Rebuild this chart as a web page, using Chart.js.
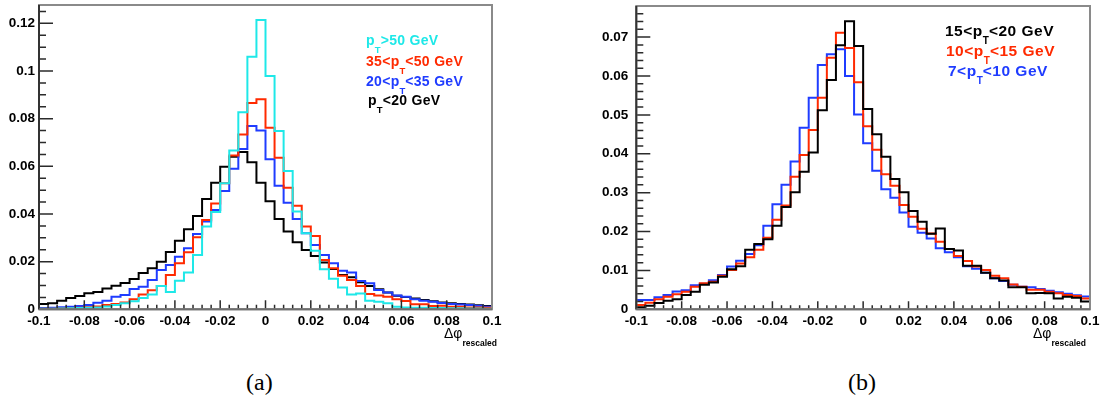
<!DOCTYPE html>
<html lang="en">
<head>
<meta charset="UTF-8" />
<title>Delta phi rescaled</title>
<script src="https://cdn.jsdelivr.net/npm/chart.js"></script>
<style>
  * { margin: 0; padding: 0; box-sizing: border-box; }
  body {
    width: 1103px;
    height: 401px;
    background: #fff;
    position: relative;
    overflow: hidden;
    font-family: 'Liberation Sans', Arial, sans-serif;
  }
  canvas { position: absolute; top: 0; }
  .leg {
    position: absolute;
    font-weight: bold;
    font-size: 14px;
    line-height: 16px;
    letter-spacing: 0.3px;
    white-space: nowrap;
  }
  .leg.big { font-size: 15.5px; letter-spacing: 0.5px; }
  .sub { font-size: 9.5px; position: relative; top: 8px; letter-spacing: 0; }
  .big .sub { font-size: 10px; top: 8.5px; }
  .xtitle { position: absolute; font-size: 14px; line-height: 16px; white-space: nowrap; }
  .xtitle .resc { font-size: 8.5px; font-weight: bold; position: relative; top: 8px; }
  .caption { position: absolute; font-family: 'Liberation Serif', serif; font-size: 24px; line-height: 28px; }
</style>
</head>
<body>
  <canvas id="chartA" width="510" height="330" style="left:0"></canvas>
  <canvas id="chartB" width="543" height="330" style="left:560px"></canvas>

  <div class="leg" style="left:366px; top:32px; color:#1ee8e8">p<span class="sub">T</span>&gt;50 GeV</div>
  <div class="leg" style="left:366px; top:53px; color:#ff2a00">35&lt;p<span class="sub">T</span>&lt;50 GeV</div>
  <div class="leg" style="left:366px; top:73px; color:#1f3cff">20&lt;p<span class="sub">T</span>&lt;35 GeV</div>
  <div class="leg" style="left:368px; top:92px; color:#000">p<span class="sub">T</span>&lt;20 GeV</div>

  <div class="leg big" style="left:945px; top:22.5px; color:#000">15&lt;p<span class="sub">T</span>&lt;20 GeV</div>
  <div class="leg big" style="left:946px; top:42.5px; color:#ff2a00">10&lt;p<span class="sub">T</span>&lt;15 GeV</div>
  <div class="leg big" style="left:948px; top:62.5px; color:#1f3cff">7&lt;p<span class="sub">T</span>&lt;10 GeV</div>

  <div class="xtitle" style="left:444px; top:325px">&Delta;&phi;<span class="resc">rescaled</span></div>
  <div class="xtitle" style="left:1033px; top:325px">&Delta;&phi;<span class="resc">rescaled</span></div>

  <div class="caption" style="left:246px; top:368px">(a)</div>
  <div class="caption" style="left:848px; top:368px">(b)</div>

  <script>
    // histogram binning: 50 bins of 0.004 from -0.1 to 0.1
    const binLow = -0.1;
    const binWidth = 0.004;
    const xTicks = [-0.1, -0.08, -0.06, -0.04, -0.02, 0, 0.02, 0.04, 0.06, 0.08, 0.1];

    // panel (a)
    const ptOver50 = [0.0002, 0.0002, 0.0003, 0.0004, 0.0005, 0.0006, 0.0008, 0.0012, 0.0018, 0.0025,
      0.0034, 0.0047, 0.0062, 0.0098, 0.0073, 0.0120, 0.0154, 0.0228, 0.0347, 0.0408,
      0.0529, 0.0666, 0.0827, 0.1060, 0.1214, 0.0979, 0.0748, 0.0580, 0.0410, 0.0319,
      0.0246, 0.0168, 0.0128, 0.0092, 0.0062, 0.0066, 0.0036, 0.0032, 0.0025, 0.0011,
      0.0008, 0.0007, 0.0006, 0.0005, 0.0005, 0.0004, 0.0004, 0.0003, 0.0003, 0.0002];
    const pt35to50 = [0.0002, 0.0002, 0.0003, 0.0004, 0.0006, 0.0009, 0.0012, 0.0018, 0.0022, 0.0029,
      0.0042, 0.0062, 0.0080, 0.0098, 0.0144, 0.0193, 0.0239, 0.0302, 0.0375, 0.0444,
      0.0529, 0.0645, 0.0734, 0.0866, 0.0882, 0.0762, 0.0636, 0.0510, 0.0435, 0.0347,
      0.0308, 0.0207, 0.0172, 0.0141, 0.0123, 0.0098, 0.0064, 0.0058, 0.0053, 0.0042,
      0.0035, 0.0021, 0.0021, 0.0014, 0.0015, 0.0011, 0.0011, 0.0008, 0.0008, 0.0006];
    const pt20to35 = [0.0005, 0.0007, 0.0009, 0.0011, 0.0014, 0.0018, 0.0028, 0.0036, 0.0053, 0.0060,
      0.0085, 0.0095, 0.0123, 0.0165, 0.0186, 0.0221, 0.0256, 0.0316, 0.0368, 0.0417,
      0.0496, 0.0590, 0.0673, 0.0769, 0.0750, 0.0630, 0.0519, 0.0447, 0.0379, 0.0319,
      0.0270, 0.0228, 0.0193, 0.0162, 0.0154, 0.0119, 0.0109, 0.0081, 0.0070, 0.0058,
      0.0053, 0.0042, 0.0036, 0.0032, 0.0026, 0.0022, 0.0020, 0.0018, 0.0015, 0.0011];
    const ptBelow20 = [0.0022, 0.0025, 0.0036, 0.0047, 0.0056, 0.0067, 0.0073, 0.0087, 0.0099, 0.0110,
      0.0127, 0.0152, 0.0172, 0.0200, 0.0240, 0.0288, 0.0336, 0.0392, 0.0463, 0.0531,
      0.0598, 0.0640, 0.0660, 0.0617, 0.0531, 0.0453, 0.0379, 0.0326, 0.0281, 0.0249,
      0.0224, 0.0196, 0.0169, 0.0144, 0.0134, 0.0113, 0.0098, 0.0084, 0.0070, 0.0057,
      0.0052, 0.0045, 0.0039, 0.0034, 0.0029, 0.0025, 0.0022, 0.0020, 0.0017, 0.0014];

    // panel (b)
    const pt15to20 = [0.0005, 0.0009, 0.0016, 0.0022, 0.0026, 0.0037, 0.0045, 0.0063, 0.0069, 0.0084,
      0.0103, 0.0111, 0.0153, 0.0168, 0.0180, 0.0215, 0.0263, 0.0301, 0.0354, 0.0403,
      0.0512, 0.0590, 0.0679, 0.0741, 0.0677, 0.0515, 0.0450, 0.0392, 0.0335, 0.0301,
      0.0253, 0.0225, 0.0194, 0.0208, 0.0155, 0.0151, 0.0112, 0.0112, 0.0094, 0.0080,
      0.0074, 0.0057, 0.0057, 0.0041, 0.0042, 0.0041, 0.0028, 0.0032, 0.0030, 0.0020];
    const pt10to15 = [0.0011, 0.0017, 0.0026, 0.0032, 0.0039, 0.0045, 0.0058, 0.0067, 0.0071, 0.0086,
      0.0101, 0.0118, 0.0134, 0.0153, 0.0184, 0.0230, 0.0267, 0.0341, 0.0397, 0.0461,
      0.0544, 0.0647, 0.0711, 0.0672, 0.0584, 0.0471, 0.0410, 0.0347, 0.0318, 0.0268,
      0.0238, 0.0207, 0.0195, 0.0174, 0.0155, 0.0137, 0.0124, 0.0110, 0.0101, 0.0086,
      0.0080, 0.0064, 0.0058, 0.0050, 0.0050, 0.0045, 0.0041, 0.0037, 0.0034, 0.0028];
    const pt7to10 = [0.0024, 0.0024, 0.0031, 0.0037, 0.0046, 0.0049, 0.0062, 0.0066, 0.0075, 0.0088,
      0.0110, 0.0125, 0.0142, 0.0165, 0.0215, 0.0270, 0.0320, 0.0380, 0.0467, 0.0544,
      0.0628, 0.0656, 0.0669, 0.0600, 0.0501, 0.0427, 0.0356, 0.0309, 0.0287, 0.0249,
      0.0212, 0.0197, 0.0182, 0.0157, 0.0147, 0.0134, 0.0111, 0.0104, 0.0094, 0.0080,
      0.0073, 0.0063, 0.0058, 0.0057, 0.0052, 0.0048, 0.0044, 0.0040, 0.0036, 0.0033];

    const CYAN = '#1ee8e8';
    const RED = '#ff2a00';
    const BLUE = '#1f3cff';
    const BLACK = '#000000';

    // left bin edge for each bin + closing point at the last upper edge
    function histPoints(values) {
      const pts = values.map((v, i) => ({ x: binLow + i * binWidth, y: v }));
      pts.push({ x: binLow + values.length * binWidth, y: values[values.length - 1] });
      return pts;
    }

    function fmt(v) {
      return String(Number(v.toFixed(3)));
    }

    // ROOT style frame with inward ticks
    const frameTicks = {
      id: 'frameTicks',
      afterDatasetsDraw(chart, args, o) {
        const { ctx, chartArea: a, scales: { x, y } } = chart;
        ctx.save();
        ctx.strokeStyle = '#2b2b2b';
        ctx.lineWidth = 1.5;
        ctx.beginPath();
        const nx = Math.round((x.max - x.min) / o.xMinor);
        for (let i = 0; i <= nx; i++) {
          const px = x.getPixelForValue(x.min + i * o.xMinor);
          const len = i % o.xSub === 0 ? o.xMajorLen : o.xMajorLen / 2;
          ctx.moveTo(px, a.bottom);
          ctx.lineTo(px, a.bottom - len);
        }
        const ny = Math.floor(y.max / o.yMinor + 1e-6);
        for (let i = 0; i <= ny; i++) {
          const py = y.getPixelForValue(i * o.yMinor);
          const len = i % o.ySub === 0 ? o.yMajorLen : o.yMajorLen / 2;
          ctx.moveTo(a.left, py);
          ctx.lineTo(a.left + len, py);
        }
        ctx.stroke();

        ctx.lineWidth = 2;
        ctx.strokeStyle = '#8a8a8a';
        ctx.strokeRect(a.left, a.top, a.right - a.left, a.bottom - a.top);
        ctx.strokeStyle = '#333';
        ctx.beginPath();
        ctx.moveTo(a.left, a.top);
        ctx.lineTo(a.left, a.bottom);
        ctx.stroke();
        ctx.strokeStyle = '#6e6e6e';
        ctx.beginPath();
        ctx.moveTo(a.left, a.bottom);
        ctx.lineTo(a.right, a.bottom);
        ctx.stroke();
        ctx.restore();
      }
    };

    const tickFont = { family: "'Liberation Sans', Arial, sans-serif", size: 13.5, weight: 'bold' };

    function makeChart(id, series, cfg) {
      const datasets = series.map(s => ({
        label: s.label,
        data: histPoints(s.values),
        borderColor: s.color,
        borderWidth: 2,
        stepped: 'before',
        pointRadius: 0,
        fill: false,
        tension: 0
      }));
      return new Chart(document.getElementById(id), {
        type: 'line',
        data: { datasets },
        options: {
          responsive: false,
          animation: false,
          events: [],
          layout: { padding: cfg.padding },
          plugins: {
            legend: { display: false },
            tooltip: { enabled: false },
            frameTicks: cfg.ticks
          },
          scales: {
            x: {
              type: 'linear',
              min: -0.1,
              max: 0.1,
              grid: { display: false, drawTicks: false },
              border: { display: false },
              afterBuildTicks: s => { s.ticks = xTicks.map(v => ({ value: v })); },
              afterFit: s => { s.height = cfg.xHeight; s.paddingLeft = 0; s.paddingRight = 0; },
              ticks: {
                callback: v => fmt(v),
                font: tickFont,
                color: '#000',
                padding: 4,
                maxRotation: 0,
                autoSkip: false
              }
            },
            y: {
              type: 'linear',
              min: 0,
              max: cfg.yMax,
              grid: { display: false, drawTicks: false },
              border: { display: false },
              afterBuildTicks: s => { s.ticks = cfg.yTicks.map(v => ({ value: v })); },
              afterFit: s => { s.width = cfg.yWidth; s.paddingTop = 0; s.paddingBottom = 0; },
              ticks: {
                callback: v => fmt(v),
                font: tickFont,
                color: '#000',
                padding: cfg.yPad,
                autoSkip: false
              }
            }
          }
        },
        plugins: [frameTicks]
      });
    }

    makeChart('chartA', [
      { label: 'pT>50 GeV', values: ptOver50, color: CYAN },
      { label: '35<pT<50 GeV', values: pt35to50, color: RED },
      { label: '20<pT<35 GeV', values: pt20to35, color: BLUE },
      { label: 'pT<20 GeV', values: ptBelow20, color: BLACK }
    ], {
      padding: { left: 0, top: 5, right: 18, bottom: 0 },
      xHeight: 20.7,
      yWidth: 39,
      yMax: 0.1277,
      yTicks: [0, 0.02, 0.04, 0.06, 0.08, 0.1, 0.12],
      yPad: 4,
      ticks: { xMinor: 0.004, xSub: 5, xMajorLen: 9, yMinor: 0.005, ySub: 4, yMajorLen: 14 }
    });

    makeChart('chartB', [
      { label: '15<pT<20 GeV', values: pt15to20, color: BLACK },
      { label: '10<pT<15 GeV', values: pt10to15, color: RED },
      { label: '7<pT<10 GeV', values: pt7to10, color: BLUE }
    ], {
      padding: { left: 0, top: 6, right: 13, bottom: 0 },
      xHeight: 20.7,
      yWidth: 76.3,
      yMax: 0.078,
      yTicks: [0, 0.01, 0.02, 0.03, 0.04, 0.05, 0.06, 0.07],
      yPad: 8,
      ticks: { xMinor: 0.004, xSub: 5, xMajorLen: 8, yMinor: 0.002, ySub: 5, yMajorLen: 14 }
    });
  </script>
</body>
</html>
